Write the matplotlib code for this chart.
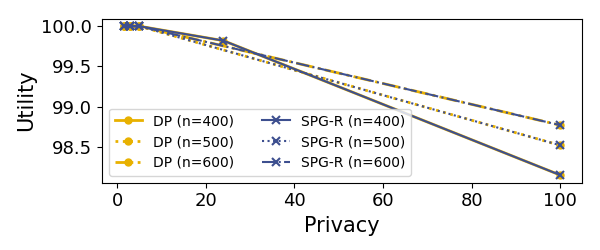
import matplotlib
matplotlib.use("Agg")
import matplotlib.pyplot as plt

privacy_400 = [1.5, 3, 5, 24, 100]
privacy_500 = [1.5, 3, 5, 100]
privacy_600 = [1.5, 3, 5, 100]

dp_400 = [100.0, 100.0, 100.0, 99.82, 98.15]
dp_500 = [100.0, 100.0, 100.0, 98.52]
dp_600 = [100.0, 100.0, 100.0, 98.77]

spg_400 = [100.0, 100.0, 100.0, 99.82, 98.15]
spg_500 = [100.0, 100.0, 100.0, 98.52]
spg_600 = [100.0, 100.0, 100.0, 98.77]

gold = "#E8B100"
blue = "#3D4F8F"

fig, ax = plt.subplots(figsize=(6, 2.5), dpi=100)
ax.plot(privacy_400, dp_400, color=gold, ls="-", marker="o", lw=2, ms=5, label="DP (n=400)")
ax.plot(privacy_500, dp_500, color=gold, ls=":", marker="o", lw=2, ms=5, label="DP (n=500)")
ax.plot(privacy_600, dp_600, color=gold, ls="-.", marker="o", lw=2, ms=5, label="DP (n=600)")
ax.plot(privacy_400, spg_400, color=blue, ls="-", marker="x", lw=1.5, ms=6, mew=1.5, label="SPG-R (n=400)")
ax.plot(privacy_500, spg_500, color=blue, ls=":", marker="x", lw=1.5, ms=6, mew=1.5, label="SPG-R (n=500)")
ax.plot(privacy_600, spg_600, color=blue, ls="-.", marker="x", lw=1.5, ms=6, mew=1.5, label="SPG-R (n=600)")

ax.set_xlabel("Privacy", fontsize=15)
ax.set_ylabel("Utility", fontsize=15)
ax.tick_params(labelsize=13)
ax.set_yticks([98.5, 99.0, 99.5, 100.0])
ax.set_xticks([0, 20, 40, 60, 80, 100])
ax.legend(ncol=2, fontsize=10, loc="lower left", handlelength=2, columnspacing=2)

fig.subplots_adjust(left=0.17, right=0.97, top=0.925, bottom=0.27)
fig.savefig("out.png", dpi=100)
